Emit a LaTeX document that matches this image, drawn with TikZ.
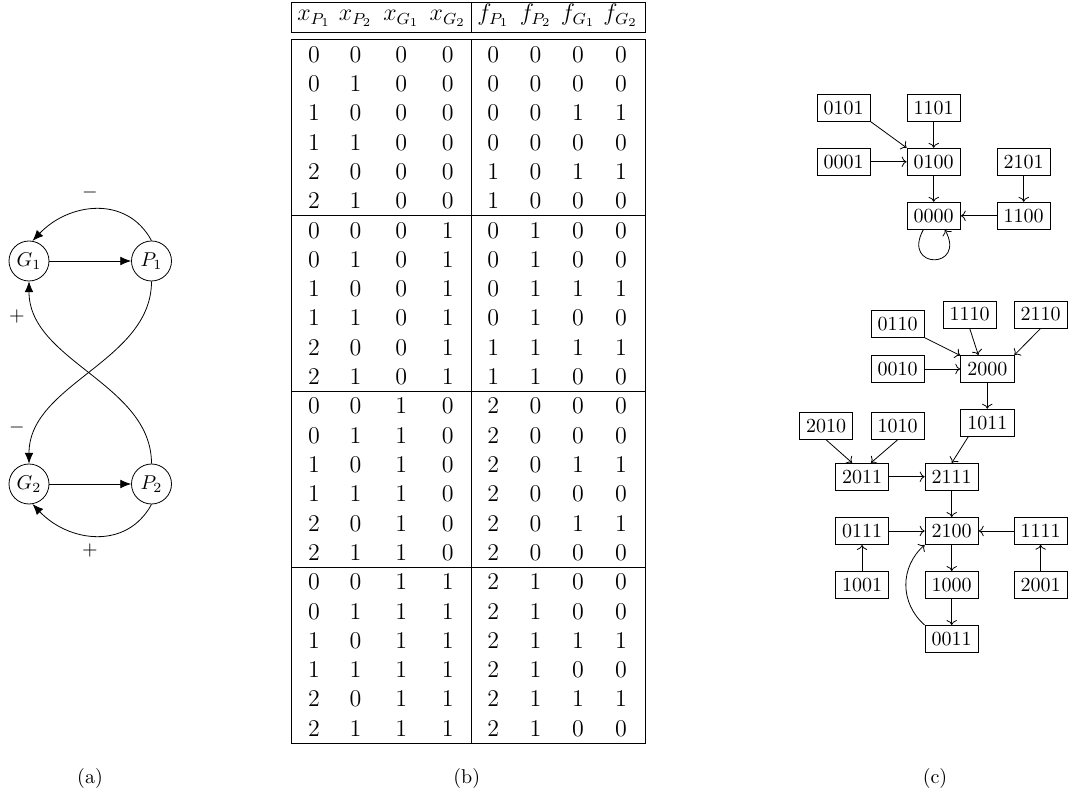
\documentclass[tikz,border=0pt]{standalone}
\usetikzlibrary{arrows.meta}
\begin{document}
\begin{tikzpicture}[x=0.5pt,y=-0.5pt,
  gene/.style={circle,draw,minimum size=20pt,inner sep=1pt},
  st/.style={rectangle,draw,inner sep=3.33pt},
  arrA/.style={-{Latex[length=5.4pt,width=4.4pt]}},
  arrC/.style={->},
  tabcell/.style={font=\large,anchor=base,inner sep=0pt},
  tabline/.style={line width=0.5pt},
  sgn/.style={inner sep=0pt}
]
\useasboundingbox (0,0) rectangle (1068,795);

% ---------- (a) ----------
\node[gene] (G1) at (29,261) {$G_1$};
\node[gene] (P1) at (151.5,261) {$P_1$};
\node[gene] (G2) at (29,484) {$G_2$};
\node[gene] (P2) at (151.5,484) {$P_2$};
\draw[arrA] (G1) -- (P1);
\draw[arrA] (G2) -- (P2);
\draw[arrA] (P1.north) .. controls +(-25,-46) and +(36,-38) .. (G1.80);
\draw[arrA] (P2.south) .. controls +(-25,46) and +(36,38) .. (G2.-80);
\draw[arrA] (P1.south) .. controls +(0,80) and +(0,-80) .. (G2.north);
\draw[arrA] (P2.north) .. controls +(0,-80) and +(0,80) .. (G1.south);
\node[sgn] (s1) at (90,193) {$-$};
\node[sgn] (s2) at (90,550) {$+$};
\node[sgn] (s3) at (17,317) {$+$};
\node[sgn] (s4) at (17,428) {$-$};
\node[anchor=base] (capa) at (90,783) {(a)};

% ---------- (b) ----------
\draw[tabline] (291.7,2.7) rectangle (645,32.3);
\draw[tabline] (471.7,2.7) -- (471.7,32.3);
\draw[tabline] (291.7,39.5) rectangle (645,743);
\draw[tabline] (471.7,39.5) -- (471.7,743);
\foreach \yy in {215.5,391.3,567.1} \draw[tabline] (291.7,\yy) -- (645,\yy);
\foreach \lab [count=\j] in {x_{P_1},x_{P_2},x_{G_1},x_{G_2},f_{P_1},f_{P_2},f_{G_1},f_{G_2}} {
  \pgfmathsetmacro\cx{{314,355.5,401.3,447.7,493.3,535.6,578,620.5}[\j-1]}
  \node[tabcell] (h\j) at (\cx,20.5) {$\lab$};
}
\foreach \row [count=\i from 0] in {
 {0,0,0,0,0,0,0,0},{0,1,0,0,0,0,0,0},{1,0,0,0,0,0,1,1},{1,1,0,0,0,0,0,0},{2,0,0,0,1,0,1,1},{2,1,0,0,1,0,0,0},
 {0,0,0,1,0,1,0,0},{0,1,0,1,0,1,0,0},{1,0,0,1,0,1,1,1},{1,1,0,1,0,1,0,0},{2,0,0,1,1,1,1,1},{2,1,0,1,1,1,0,0},
 {0,0,1,0,2,0,0,0},{0,1,1,0,2,0,0,0},{1,0,1,0,2,0,1,1},{1,1,1,0,2,0,0,0},{2,0,1,0,2,0,1,1},{2,1,1,0,2,0,0,0},
 {0,0,1,1,2,1,0,0},{0,1,1,1,2,1,0,0},{1,0,1,1,2,1,1,1},{1,1,1,1,2,1,0,0},{2,0,1,1,2,1,1,1},{2,1,1,1,2,1,0,0}} {
  \foreach \v [count=\j] in \row {
    \pgfmathsetmacro\cx{{314,355.5,401.3,447.7,493.3,535.6,578,621}[\j-1]}
    \pgfmathsetmacro\cy{62.3+29.3*\i}
    \node[tabcell] (t-\i-\j) at (\cx,\cy) {\v};
  }
}
\node[anchor=base] (capb) at (466.7,783) {(b)};

% ---------- (c) ----------
\node[st] (n0101) at (843.7,107.8) {0101};
\node[st] (n1101) at (933.7,107.8) {1101};
\node[st] (n0001) at (843.7,161.8) {0001};
\node[st] (n0100) at (933.7,161.8) {0100};
\node[st] (n2101) at (1023.7,161.8) {2101};
\node[st] (n0000) at (933.7,215.8) {0000};
\node[st] (n1100) at (1023.7,215.8) {1100};
\draw[arrC] (n0101.south east) -- (n0100.north west);
\draw[arrC] (n1101) -- (n0100);
\draw[arrC] (n0001) -- (n0100);
\draw[arrC] (n0100) -- (n0000);
\draw[arrC] (n2101) -- (n1100);
\draw[arrC] (n1100) -- (n0000);
\draw[arrC] ([xshift=-5.2pt]n0000.south) .. controls +(-22,40) and +(22,40) .. ([xshift=5.6pt]n0000.south);

\node[st] (n0110) at (897.7,324.2) {0110};
\node[st] (n1110) at (969.7,314.5) {1110};
\node[st] (n2110) at (1040.6,314.5) {2110};
\node[st] (n0010) at (897.7,369) {0010};
\node[st] (n2000) at (987.3,369) {2000};
\node[st] (n2010) at (826,425.8) {2010};
\node[st] (n1010) at (897.7,425.8) {1010};
\node[st] (n1011) at (987.3,422.7) {1011};
\node[st] (n2011) at (862,476.7) {2011};
\node[st] (n2111) at (951.7,476.7) {2111};
\node[st] (n0111) at (862,531) {0111};
\node[st] (n2100) at (951.7,531) {2100};
\node[st] (n1111) at (1040.6,531) {1111};
\node[st] (n1001) at (862,585) {1001};
\node[st] (n1000) at (951.7,585) {1000};
\node[st] (n2001) at (1040.6,585) {2001};
\node[st] (n0011) at (951.7,639) {0011};
\draw[arrC] (n0110) -- (n2000);
\draw[arrC] (n1110.south) -- ([xshift=-4.5pt]n2000.north);
\draw[arrC] (n2110.south) -- (n2000.north east);
\draw[arrC] (n0010) -- (n2000);
\draw[arrC] (n2000) -- (n1011);
\draw[arrC] (n2010.south) -- ([xshift=-5pt]n2011.north);
\draw[arrC] (n1010.south) -- ([xshift=4.5pt]n2011.north);
\draw[arrC] ([xshift=-9.5pt]n1011.south) -- (n2111.north);
\draw[arrC] (n2011) -- (n2111);
\draw[arrC] (n2111) -- (n2100);
\draw[arrC] (n0111) -- (n2100);
\draw[arrC] (n1111) -- (n2100);
\draw[arrC] (n1001) -- (n0111);
\draw[arrC] (n2001) -- (n1111);
\draw[arrC] (n2100) -- (n1000);
\draw[arrC] (n1000) -- (n0011);
\draw[arrC] (n0011.north west) .. controls +(-25,-22) and +(-25,22) .. (n2100.south west);
\node[anchor=base] (capc) at (935,783) {(c)};
\end{tikzpicture}
\end{document}
